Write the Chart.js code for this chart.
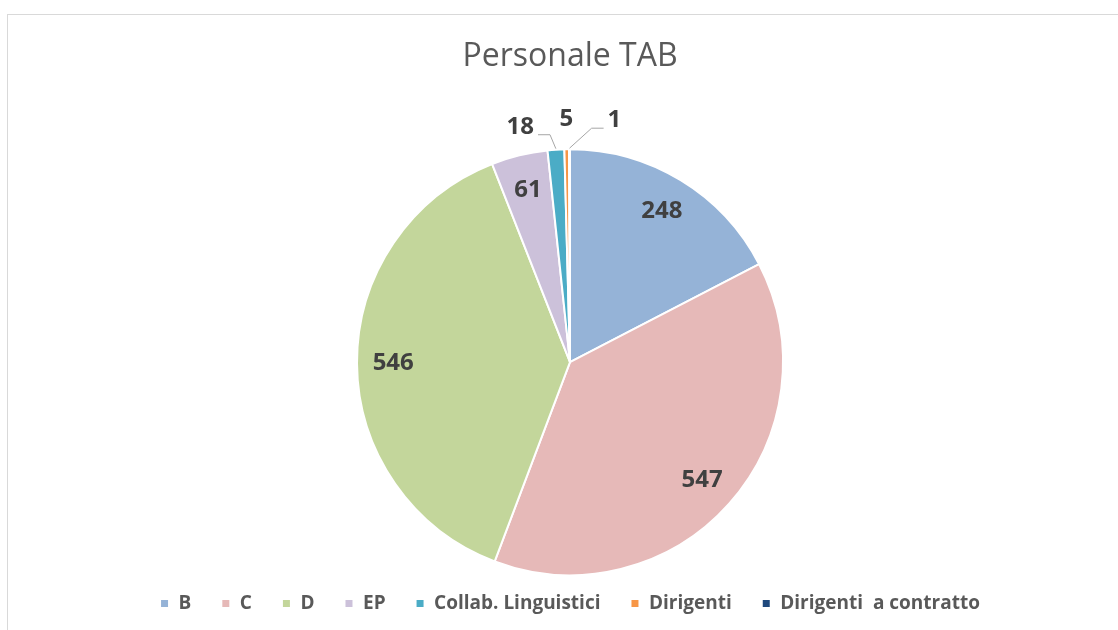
<!DOCTYPE html>
<html>
<head>
<meta charset="utf-8">
<script src="https://cdn.jsdelivr.net/npm/chart.js@4.4.0/dist/chart.umd.min.js"></script>
<style>
    html, body { margin: 0; padding: 0; background: #fff; overflow: hidden; }
    #wrap { position: relative; width: 1118px; height: 630px; }
    #frame { position: absolute; left: 7px; top: 14px; width: 1200px; height: 700px; border: 1px solid #d9d9d9; box-sizing: border-box; }
    canvas { position: absolute; left: 0; top: 0; }
</style>
</head>
<body>
<div id="wrap">
    <div id="frame"></div>
    <canvas id="pieChart" width="1118" height="630"></canvas>
</div>
<script>
// DATA
const categories = ['B', 'C', 'D', 'EP', 'Collab. Linguistici', 'Dirigenti', 'Dirigenti  a contratto'];
const values = [248, 547, 546, 61, 18, 5, 1];
const sliceColors = ['#95B3D7', '#E6B9B8', '#C3D69B', '#CCC1DA', '#4BACC6', '#F79646', '#1F497D'];
// small slices get their label outside: [dx, dy, leader line?]
const outsideLabel = [null, null, null, null, [-34, 2, true], [0, -5, false], [45, -4, true]];

// draws value labels, with leader lines for the tiny slices
const valueLabels = {
    id: 'valueLabels',
    afterDatasetsDraw(chart) {
        const ctx = chart.ctx;
        const arcs = chart.getDatasetMeta(0).data;
        ctx.save();
        ctx.font = 'bold 24px "Open Sans", sans-serif';
        ctx.fillStyle = '#404040';
        ctx.textAlign = 'center';
        ctx.textBaseline = 'middle';
        arcs.forEach((arc, i) => {
            const p = arc.getProps(['x', 'y', 'startAngle', 'endAngle', 'outerRadius'], true);
            const mid = (p.startAngle + p.endAngle) / 2;
            const text = String(values[i]);
            const out = outsideLabel[i];
            if (!out) {
                const r = p.outerRadius * 0.83;
                ctx.fillText(text, p.x + Math.cos(mid) * r, p.y + Math.sin(mid) * r);
                return;
            }
            const r = p.outerRadius + 25;
            const lx = p.x + Math.cos(mid) * r + out[0];
            const ly = p.y + Math.sin(mid) * r + out[1];
            ctx.fillText(text, lx, ly);
            if (out[2]) {
                const w = ctx.measureText(text).width;
                const dir = out[0] < 0 ? 1 : -1;
                const endX = lx + dir * (w / 2 + 4);
                const elbowX = endX + dir * 12;
                const lineY = ly + 8;
                const ex = p.x + Math.cos(mid) * (p.outerRadius + 1);
                const ey = p.y + Math.sin(mid) * (p.outerRadius + 1);
                ctx.strokeStyle = '#a6a6a6';
                ctx.lineWidth = 1;
                ctx.beginPath();
                ctx.moveTo(ex, ey);
                ctx.lineTo(elbowX, lineY);
                ctx.lineTo(endX, lineY);
                ctx.stroke();
            }
        });
        ctx.restore();
    }
};

const ctxPie = document.getElementById('pieChart');
new Chart(ctxPie, {
    type: 'pie',
    data: {
        labels: categories,
        datasets: [{
            data: values,
            backgroundColor: sliceColors,
            borderColor: '#ffffff',
            borderWidth: 2,
            hoverOffset: 0,
            radius: 213,
            clip: false
        }]
    },
    options: {
        responsive: false,
        animation: false,
        layout: { padding: { left: 22, right: 0, top: 0, bottom: 7 } },
        plugins: {
            title: {
                display: true,
                text: 'Personale TAB',
                color: '#595959',
                font: { family: '"Open Sans", sans-serif', size: 32, weight: 'normal' },
                padding: { top: 38, bottom: 84 }
            },
            legend: {
                position: 'bottom',
                labels: {
                    color: '#595959',
                    font: { family: '"Open Sans", sans-serif', size: 19, weight: 'bold' },
                    boxWidth: 9,
                    boxHeight: 9,
                    padding: 30
                }
            },
            tooltip: { enabled: false }
        }
    },
    plugins: [valueLabels]
});
</script>
</body>
</html>
